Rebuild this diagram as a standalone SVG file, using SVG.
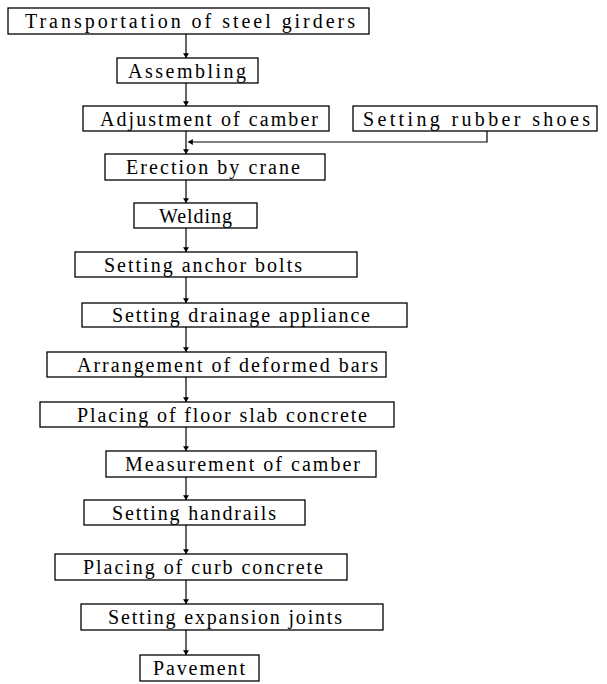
<svg xmlns="http://www.w3.org/2000/svg" width="607" height="684" viewBox="0 0 607 684">
<style>
.b{fill:#fff;stroke:#000;stroke-width:1.3}
text{font-family:"Liberation Serif","DejaVu Serif",serif;font-size:20px;fill:#000;text-anchor:start}
.c line,.c polyline{stroke:#000;stroke-width:1.2;fill:none}
</style>
<defs>
<marker id="ah" viewBox="0 0 8 10" refX="8" refY="5" markerWidth="7" markerHeight="6" markerUnits="userSpaceOnUse" orient="auto">
<path d="M0,0 L8,5 L0,10 Z" fill="#000"/>
</marker>
</defs>
<rect width="607" height="684" fill="#fff"/>
<g class="c">
<line x1="186" y1="34" x2="186" y2="58" marker-end="url(#ah)"/>
<line x1="186" y1="83" x2="186" y2="106" marker-end="url(#ah)"/>
<line x1="186" y1="131" x2="186" y2="154" marker-end="url(#ah)"/>
<polyline points="487,131 487,142 188,142" marker-end="url(#ah)"/>
<line x1="186" y1="180" x2="186" y2="203" marker-end="url(#ah)"/>
<line x1="186" y1="228" x2="186" y2="252" marker-end="url(#ah)"/>
<line x1="186" y1="277" x2="186" y2="303" marker-end="url(#ah)"/>
<line x1="186" y1="327" x2="186" y2="352" marker-end="url(#ah)"/>
<line x1="186" y1="377" x2="186" y2="402" marker-end="url(#ah)"/>
<line x1="186" y1="427" x2="186" y2="451" marker-end="url(#ah)"/>
<line x1="186" y1="477" x2="186" y2="500" marker-end="url(#ah)"/>
<line x1="186" y1="525" x2="186" y2="554" marker-end="url(#ah)"/>
<line x1="186" y1="580" x2="186" y2="604" marker-end="url(#ah)"/>
<line x1="186" y1="630" x2="186" y2="655" marker-end="url(#ah)"/>
</g>
<g id="n1"><rect class="b" x="8" y="8" width="361" height="26"/><text x="25" y="28" textLength="330" lengthAdjust="spacing">Transportation of steel girders</text></g>
<g id="n2"><rect class="b" x="117" y="58" width="141" height="25"/><text x="128" y="77.5" textLength="118" lengthAdjust="spacing">Assembling</text></g>
<g id="n3"><rect class="b" x="83" y="106" width="246" height="25"/><text x="100" y="125.5" textLength="218" lengthAdjust="spacing">Adjustment of camber</text></g>
<g id="n4"><rect class="b" x="353" y="106" width="244" height="25"/><text x="363" y="125.5" textLength="227" lengthAdjust="spacing">Setting rubber shoes</text></g>
<g id="n5"><rect class="b" x="105" y="154" width="220" height="26"/><text x="126" y="174" textLength="174" lengthAdjust="spacing">Erection by crane</text></g>
<g id="n6"><rect class="b" x="134" y="203" width="123" height="25"/><text x="159" y="222.5" textLength="73" lengthAdjust="spacing">Welding</text></g>
<g id="n7"><rect class="b" x="75" y="252" width="282" height="25"/><text x="104" y="271.5" textLength="198" lengthAdjust="spacing">Setting anchor bolts</text></g>
<g id="n8"><rect class="b" x="82" y="303" width="325" height="24"/><text x="112" y="322" textLength="258" lengthAdjust="spacing">Setting drainage appliance</text></g>
<g id="n9"><rect class="b" x="47" y="352" width="339" height="25"/><text x="77" y="371.5" textLength="301" lengthAdjust="spacing">Arrangement of deformed bars</text></g>
<g id="n10"><rect class="b" x="40" y="402" width="354" height="25"/><text x="77" y="421.5" textLength="290" lengthAdjust="spacing">Placing of floor slab concrete</text></g>
<g id="n11"><rect class="b" x="106" y="451" width="270" height="26"/><text x="125" y="471" textLength="235" lengthAdjust="spacing">Measurement of camber</text></g>
<g id="n12"><rect class="b" x="84" y="500" width="221" height="25"/><text x="112" y="519.5" textLength="164" lengthAdjust="spacing">Setting handrails</text></g>
<g id="n13"><rect class="b" x="55" y="554" width="292" height="26"/><text x="83" y="574" textLength="240" lengthAdjust="spacing">Placing of curb concrete</text></g>
<g id="n14"><rect class="b" x="81" y="604" width="302" height="26"/><text x="108" y="624" textLength="234" lengthAdjust="spacing">Setting expansion joints</text></g>
<g id="n15"><rect class="b" x="140" y="655" width="119" height="26"/><text x="153" y="675" textLength="92" lengthAdjust="spacing">Pavement</text></g>
</svg>
